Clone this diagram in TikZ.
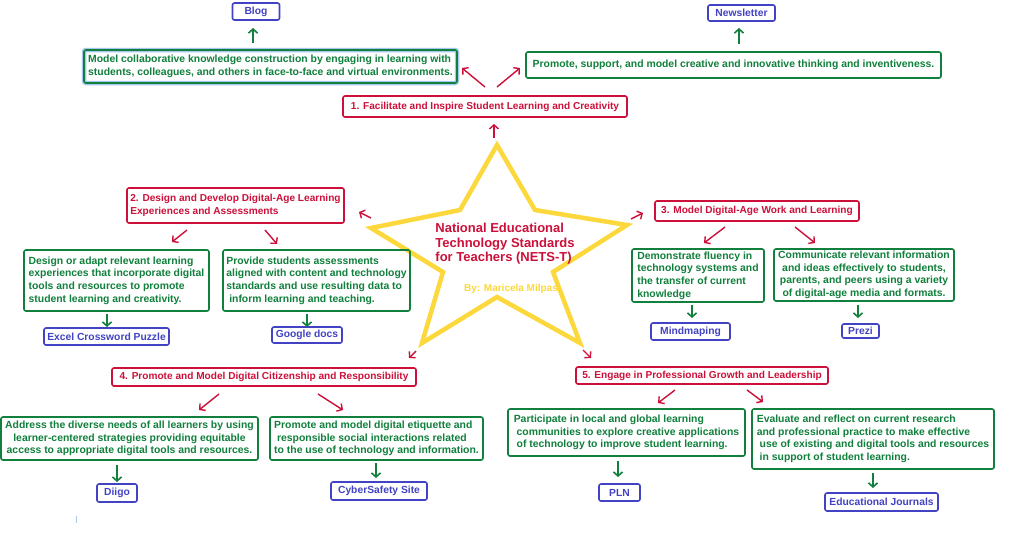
\documentclass[tikz,border=0pt]{standalone}
\usepackage{fontspec}
\setmainfont{Liberation Sans}
\usetikzlibrary{arrows.meta}

\definecolor{stdred}{RGB}{204,16,58}
\definecolor{ideagreen}{RGB}{16,128,60}
\definecolor{toolblue}{RGB}{66,66,196}
\definecolor{staryellow}{RGB}{252,216,60}
\definecolor{glowblue}{RGB}{166,200,240}

\tikzset{
  stdbox/.style={draw=stdred, text=stdred, line width=1.6pt, rounded corners=2pt,
    inner sep=1pt, font=\bfseries\fontsize{10.1}{12.5}\selectfont},
  ideabox/.style={draw=ideagreen, text=ideagreen, line width=1.6pt, rounded corners=2pt,
    inner sep=1pt, font=\bfseries\fontsize{10.4}{12.6}\selectfont},
  toolbox/.style={draw=toolblue, text=toolblue, line width=1.6pt, rounded corners=2pt,
    inner sep=1pt, font=\bfseries\fontsize{10.3}{11}\selectfont},
  redarrow/.style={->, stdred, line width=1.4pt},
  greenarrow/.style={->, ideagreen, line width=1.6pt}
}

\begin{document}
\begin{tikzpicture}[x=1pt, y=-1pt, >={Straight Barb[length=4pt,width=9pt]}]

\useasboundingbox[fill=white] (0,0) rectangle (1022,544);

% Star in the middle
\draw[staryellow, line width=4.5pt, line join=miter]
  (497,145) -- (535,210) -- (627,225) -- (553,272) -- (580,343)
  -- (497,297) -- (422,343) -- (443,272) -- (371,228) -- (460,210) -- cycle;
\node[stdred, align=left, font=\bfseries\fontsize{13}{14.5}\selectfont] (title) at (505,244)
  {National Educational\\Technology Standards\\for Teachers (NETS-T)};
\node[staryellow, font=\bfseries\fontsize{10}{11}\selectfont] (author) at (511,289) {By: Maricela Milpas};

% Standard 1
\node[stdbox, minimum width=284, minimum height=21] (std1) at (485,106.5)
  {1. Facilitate and Inspire Student Learning and Creativity};
\node[ideabox, minimum width=373, minimum height=33, align=left,
  preaction={draw=glowblue, line width=4.5pt}] (idea11) at (270.5,66.5)
  {Model collaborative knowledge construction by engaging in learning with\\
   students, colleagues, and others in face-to-face and virtual environments.};
\node[ideabox, minimum width=415, minimum height=26] (idea12) at (733.5,65)
  {Promote, support, and model creative and innovative thinking and inventiveness.};
\node[toolbox, minimum width=47, minimum height=17] (tool11) at (256,11.5) {Blog};
\node[toolbox, minimum width=67, minimum height=16] (tool12) at (741.5,13) {Newsletter};

% Standard 2
\node[stdbox, minimum width=217, minimum height=35, align=left] (std2) at (235.5,205.5)
  {2. Design and Develop Digital-Age Learning\\Experiences and Assessments};
\node[ideabox, minimum width=185, minimum height=61, align=left] (idea21) at (116.5,280.5)
  {Design or adapt relevant learning\\experiences that incorporate digital\\
   tools and resources to promote\\student learning and creativity.};
\node[ideabox, minimum width=187, minimum height=61, align=left] (idea22) at (316.5,280.5)
  {Provide students assessments\\aligned with content and technology\\
   standards and use resulting data to\\\ inform learning and teaching.};
\node[toolbox, minimum width=125, minimum height=17] (tool21) at (106.5,336.5) {Excel Crossword Puzzle};
\node[toolbox, minimum width=70, minimum height=16] (tool22) at (307,335) {Google docs};

% Standard 3
\node[stdbox, minimum width=204, minimum height=20] (std3) at (757,211)
  {3. Model Digital-Age Work and Learning};
\node[ideabox, minimum width=132, minimum height=53, align=left] (idea31) at (698,275.5)
  {Demonstrate fluency in\\technology systems and\\the transfer of current\\knowledge};
\node[ideabox, minimum width=180, minimum height=52, align=center] (idea32) at (864,275)
  {Communicate relevant information\\and ideas effectively to students,\\
   parents, and peers using a variety\\of digital-age media and formats.};
\node[toolbox, minimum width=79, minimum height=17] (tool31) at (690.5,331.5) {Mindmaping};
\node[toolbox, minimum width=37, minimum height=14] (tool32) at (860.5,331) {Prezi};

% Standard 4
\node[stdbox, minimum width=304, minimum height=18] (std4) at (264,377)
  {4. Promote and Model Digital Citizenship and Responsibility};
\node[ideabox, minimum width=257, minimum height=43, align=center] (idea41) at (129.5,438.5)
  {Address the diverse needs of all learners by using\\
   learner-centered strategies providing equitable\\
   access to appropriate digital tools and resources.};
\node[ideabox, minimum width=213, minimum height=43, align=left] (idea42) at (376.5,438.5)
  {Promote and model digital etiquette and\\\ responsible social interactions related\\
   to the use of technology and information.};
\node[toolbox, minimum width=40, minimum height=18] (tool41) at (117,493) {Diigo};
\node[toolbox, minimum width=96, minimum height=18] (tool42) at (379,491) {CyberSafety Site};

% Standard 5
\node[stdbox, minimum width=252, minimum height=17] (std5) at (702,375.5)
  {5. Engage in Professional Growth and Leadership};
\node[ideabox, minimum width=237, minimum height=47, align=left] (idea51) at (626.5,432.5)
  {Participate in local and global learning\\\ communities to explore creative applications\\
   \ of technology to improve student learning.};
\node[ideabox, minimum width=242, minimum height=60, align=left] (idea52) at (873,439)
  {Evaluate and reflect on current research\\and professional practice to make effective\\
   \ use of existing and digital tools and resources\\\ in support of student learning.};
\node[toolbox, minimum width=41, minimum height=17] (tool51) at (619.5,492.5) {PLN};
\node[toolbox, minimum width=113, minimum height=18] (tool52) at (881.5,502) {Educational Journals};

% Arrow ends (star to standards)
\coordinate (s0a) at (494,138);  \coordinate (s0b) at (494,124);
\coordinate (s1a) at (371,218);  \coordinate (s1b) at (359,212);
\coordinate (s2a) at (631,219);  \coordinate (s2b) at (643,213);
\coordinate (s3a) at (416,351);  \coordinate (s3b) at (409,358);
\coordinate (s4a) at (583,350);  \coordinate (s4b) at (591,358);

% Arrow ends (standards to ideas)
\coordinate (r11a) at (485,87);  \coordinate (r11b) at (462,68);
\coordinate (r12a) at (497,87);  \coordinate (r12b) at (520,68);
\coordinate (r21a) at (187,230); \coordinate (r21b) at (172,242);
\coordinate (r22a) at (265,230); \coordinate (r22b) at (277,244);
\coordinate (r31a) at (725,227); \coordinate (r31b) at (704,243);
\coordinate (r32a) at (795,227); \coordinate (r32b) at (815,243);
\coordinate (r41a) at (219,394); \coordinate (r41b) at (199,410);
\coordinate (r42a) at (318,394); \coordinate (r42b) at (343,410);
\coordinate (r51a) at (675,390); \coordinate (r51b) at (658,403);
\coordinate (r52a) at (747,390); \coordinate (r52b) at (763,402);

% Arrow ends (ideas to tools)
\coordinate (g11a) at (253,43);  \coordinate (g11b) at (253,28);
\coordinate (g12a) at (739,44);  \coordinate (g12b) at (739,28);
\coordinate (g21a) at (107,314); \coordinate (g21b) at (107,327);
\coordinate (g22a) at (307,314); \coordinate (g22b) at (307,327);
\coordinate (g31a) at (692,305); \coordinate (g31b) at (692,318);
\coordinate (g32a) at (858,305); \coordinate (g32b) at (858,318);
\coordinate (g41a) at (117,465); \coordinate (g41b) at (117,482);
\coordinate (g42a) at (376,463); \coordinate (g42b) at (376,478);
\coordinate (g51a) at (618,461); \coordinate (g51b) at (618,477);
\coordinate (g52a) at (873,473); \coordinate (g52b) at (873,488);

% Red arrows
\foreach \a/\b in {s0a/s0b, s1a/s1b, s2a/s2b, s3a/s3b, s4a/s4b,
  r11a/r11b, r12a/r12b, r21a/r21b, r22a/r22b, r31a/r31b,
  r32a/r32b, r41a/r41b, r42a/r42b, r51a/r51b, r52a/r52b}
  \draw[redarrow] (\a) -- (\b);

% Green arrows
\foreach \a/\b in {g11a/g11b, g12a/g12b, g21a/g21b, g22a/g22b, g31a/g31b,
  g32a/g32b, g41a/g41b, g42a/g42b, g51a/g51b, g52a/g52b}
  \draw[greenarrow] (\a) -- (\b);

% Stray mark
\draw[glowblue, line width=1pt] (76,516) -- (76,523);

\end{tikzpicture}
\end{document}
